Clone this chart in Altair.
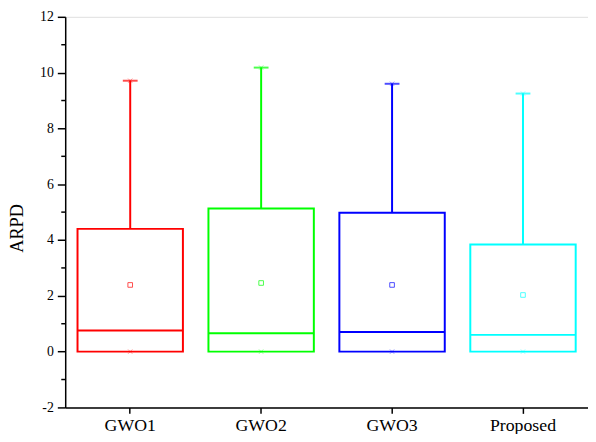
import altair as alt
import pandas as pd

methods = ["GWO1", "GWO2", "GWO3", "Proposed"]
q1 = [0.0, 0.0, 0.0, 0.0]
median = [0.76, 0.66, 0.70, 0.60]
q3 = [4.40, 5.13, 4.98, 3.84]
upper = [9.71, 10.18, 9.60, 9.25]
mean = [2.39, 2.46, 2.39, 2.03]
minimum = [0.0, 0.0, 0.0, 0.0]
colors = ["#FF0000", "#00FF00", "#0000FF", "#00FFFF"]
y_ticks = [-2, 0, 2, 4, 6, 8, 10, 12]
minor_ticks = [-1, 1, 3, 5, 7, 9, 11]

df = pd.DataFrame({
    "method": methods, "q1": q1, "median": median, "q3": q3,
    "upper": upper, "mean": mean, "minimum": minimum,
})
minor_df = pd.DataFrame({"v": minor_ticks})

FONT = "Liberation Serif"

x_enc = alt.X("method:N", sort=methods, title=None,
              scale=alt.Scale(paddingInner=0.195, paddingOuter=0.094),
              axis=alt.Axis(labelAngle=0, labelFont=FONT, labelFontSize=18,
                            labelColor="black", labelPadding=3,
                            tickSize=6, tickColor="black", tickWidth=1.5,
                            domainColor="black", domainWidth=1.5, grid=False))
y_scale = alt.Scale(domain=[-2, 12], nice=False, zero=False)
color = alt.Color("method:N", sort=methods,
                  scale=alt.Scale(domain=methods, range=colors), legend=None)

base = alt.Chart(df)

whisker = base.mark_rule(strokeWidth=2).encode(
    x=x_enc,
    y=alt.Y("q3:Q", scale=y_scale, title="ARPD",
            axis=alt.Axis(values=y_ticks, labelExpr="'' + datum.value",
                          labelFont=FONT, labelFontSize=14,
                          labelColor="black", labelPadding=4,
                          tickSize=8, tickColor="black", tickWidth=1.5,
                          domainColor="black", domainWidth=1.5, grid=False,
                          titleFont=FONT, titleFontSize=18.5, titleFontWeight="normal",
                          titleColor="black", titleAngle=270,
                          titleAlign="center", titleBaseline="alphabetic",
                          titleX=-43, titleY=214)),
    y2="upper:Q",
    color=color,
)

cap = base.mark_tick(size=15, thickness=2).encode(
    x=x_enc, y=alt.Y("upper:Q", scale=y_scale), color=color)

box = base.mark_rect(filled=False, strokeWidth=2).encode(
    x=x_enc, y=alt.Y("q1:Q", scale=y_scale), y2="q3:Q", color=color)

med = base.mark_rect(filled=False, strokeWidth=2).encode(
    x=x_enc, y=alt.Y("median:Q", scale=y_scale), y2="median:Q", color=color)

mean_pt = base.mark_point(shape="square", size=22, filled=False, strokeWidth=1).encode(
    x=x_enc, y=alt.Y("mean:Q", scale=y_scale), color=color)

xshape = "M-1,-1L1,1M-1,1L1,-1"
min_pt = base.mark_point(shape=xshape, size=20, filled=False, strokeWidth=0.8, opacity=0.45).encode(
    x=x_enc, y=alt.Y("minimum:Q", scale=y_scale), color=color)
max_pt = base.mark_point(shape=xshape, size=20, filled=False, strokeWidth=0.8, opacity=0.45).encode(
    x=x_enc, y=alt.Y("upper:Q", scale=y_scale), color=color)

minor = alt.Chart(minor_df).mark_rule(color="black", strokeWidth=1.5).encode(
    y=alt.Y("v:Q", scale=y_scale), x=alt.value(-4), x2=alt.value(0))

chart = alt.layer(box, med, whisker, cap, mean_pt, min_pt, max_pt, minor).properties(
    width=530, height=396,
    autosize=alt.AutoSizeParams(type="none"),
    padding={"left": 58, "top": 6, "right": 0, "bottom": 24},
).configure_view(stroke=None).configure(background="white")

chart.save("out.html", embed_options={"renderer": "svg", "actions": False})
